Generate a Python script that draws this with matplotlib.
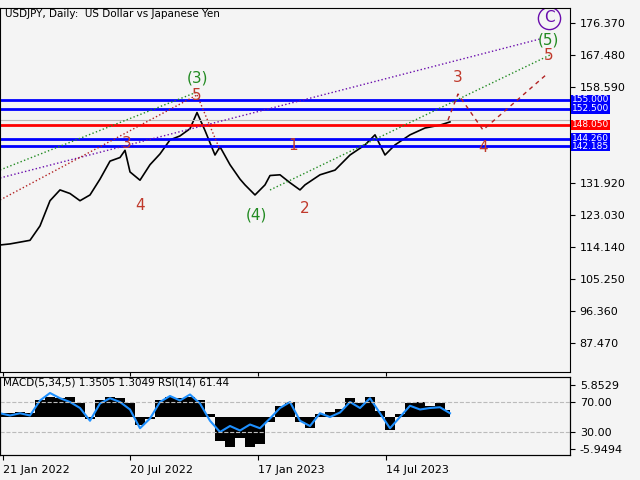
import matplotlib
matplotlib.use("Agg")
import matplotlib.pyplot as plt

price_x = [0,10,20,30,40,50,60,70,80,90,100,110,120,125,130,140,150,160,170,180,190,197,205,215,220,230,240,245,255,265,270,280,290,300,305,320,335,350,365,375,385,395,410,425,440,450]
price_y = [114.7,115,115.5,116,120,127,130,129,127,128.6,133,138,139,141,135,132.7,137,140,143.9,145,147,151.5,146.5,139.7,142,137,133,131.4,128.6,131.4,134,134.2,132,130,131.4,134.2,135.5,139.7,142.5,145.3,139.7,142.5,145.3,147.2,148,148.9]

ind_x = list(range(0, 451, 10))
macd_hist = [0.6,0.6,0.8,0.7,3.0,3.7,3.5,3.7,2.5,-0.5,3.0,3.7,3.5,2.5,-1.5,-0.5,3.0,3.6,3.4,3.7,3.0,0.5,-4.5,-5.5,-4.0,-5.5,-5.0,-1.0,2.0,2.8,-1.0,-2.0,0.5,0.8,1.5,3.5,2.5,3.7,1.0,-2.5,0.5,2.5,2.8,2.0,2.5,1.2]
rsi = [55,52,55,52,72,82,75,70,62,45,68,75,70,60,35,48,70,78,72,80,68,45,30,38,32,40,35,48,62,70,45,38,55,50,56,70,62,75,55,35,50,65,60,62,63,55]

levels = [155.000, 152.500, 148.050, 144.260, 142.185]
level_colors = ['#0000ff', '#0000ff', '#ff0000', '#0000ff', '#0000ff']
price_ticks = [176.370,167.480,158.590,131.920,123.030,114.140,105.250,96.360,87.470]
date_pos = [3, 130, 258, 386]
date_labels = ['21 Jan 2022', '20 Jul 2022', '17 Jan 2023', '14 Jul 2023']

bg = '#f4f4f4'
fig = plt.figure(figsize=(6.4, 4.8), dpi=100, facecolor=bg)
ax = fig.add_axes([0.0, 1-372/480, 570/640, 364/480], facecolor=bg)
ax2 = fig.add_axes([0.0, 1-455/480, 570/640, 78/480], facecolor=bg)
ppx = 0.2778
ax.set_xlim(0, 570); ax2.set_xlim(0, 570)
ax.set_ylim(176.37-(372-23)*ppx, 176.37+15*ppx)

ax.plot(price_x, price_y, color='black', lw=1.2)
ax.axhline(149.5, color='#bbbbbb', lw=0.8)
for lv, c in zip(levels, level_colors):
    ax.axhline(lv, color=c, lw=2)

def P(y):
    return 176.37-(y-23)*ppx
ax.plot([0,540],[P(178),P(39)], ls=':', color='#6a0dad', lw=1)
ax.plot([0,197],[P(170),P(92)], ls=':', color='#228b22', lw=1)
ax.plot([270,550],[P(190),P(55)], ls=':', color='#228b22', lw=1)
ax.plot([0,197],[P(200),P(95)], ls=':', color='#b22222', lw=1)
ax.plot([197,220],[P(95),P(150)], ls=':', color='#b22222', lw=1)
ax.plot([448,458,483,547],[P(120),P(94),P(130),P(74)], ls=(0,(3,3)), color='#b22222', lw=1)

lbls = [("(3)",197,78,'#228b22'),("5",197,95,'#c0392b'),("3",127,143,'#c0392b'),("4",140,205,'#c0392b'),
        ("(4)",256,215,'#228b22'),("1",293,146,'#c0392b'),("2",305,208,'#c0392b'),("3",458,77,'#c0392b'),
        ("4",483,148,'#c0392b'),("5",549,55,'#c0392b'),("(5)",548,40,'#228b22'),("C",549,18,'#6a0dad')]
for t,x,y,c in lbls:
    ax.text(x, P(y), t, color=c, fontsize=11, ha='center', va='center')
ax.plot([549],[P(18)], marker='o', ms=16, mfc='none', mec='#6a0dad', mew=1)

ax.text(5, P(14), "USDJPY, Daily:  US Dollar vs Japanese Yen", fontsize=7.5, va='center')

ax.yaxis.tick_right()
ax.set_yticks(price_ticks)
ax.set_yticklabels([f"{v:.3f}" for v in price_ticks], fontsize=8)
ax.set_xticks(date_pos); ax.tick_params(axis='x', length=3, labelbottom=False)
for lv, c in zip(levels, level_colors):
    ax.text(572, lv, f"{lv:.3f}", color='white', fontsize=6.5, va='center', ha='left',
            bbox=dict(boxstyle='square,pad=0.1', fc=c, ec='none'))

rs = 0.75
ax2.set_ylim(30-(455-432)/rs, 70+(402-377)/rs)
axm = ax2.twinx()
axm.set_ylim(-5.95-6/5.42, 5.85+8/5.42)
axm.fill_between(ind_x, macd_hist, 0, step='mid', color='black', lw=0)
axm.set_yticks([])
ax2.set_zorder(axm.get_zorder()+1); ax2.patch.set_visible(False)
ax2.plot(ind_x, rsi, color='#1e90ff', lw=1.5)
ax2.axhline(70, color='#bbbbbb', ls='--', lw=0.8)
ax2.axhline(30, color='#bbbbbb', ls='--', lw=0.8)
ax2.yaxis.tick_right()
ax2.set_yticks([70+17/rs, 70, 30, 30-17/rs])
ax2.set_yticklabels(['5.8529','70.00','30.00','-5.9494'], fontsize=8)
ax2.set_xticks(date_pos); ax2.set_xticklabels(date_labels, fontsize=8)
for lab in ax2.get_xticklabels(): lab.set_ha('left')
ax2.text(3, 96, "MACD(5,34,5) 1.3505 1.3049 RSI(14) 61.44", fontsize=7.5, va='center')

fig.savefig("out.png", dpi=100, facecolor=bg)
